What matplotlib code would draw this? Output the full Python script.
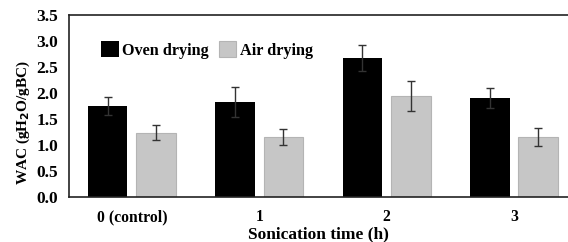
import matplotlib.pyplot as plt
import numpy as np

plt.rcParams['font.family'] = 'Liberation Serif'
plt.rcParams['font.weight'] = 'bold'

groups = ["0 (control)", "1", "2", "3"]
oven = [1.75, 1.83, 2.68, 1.90]
oven_err = [0.18, 0.29, 0.25, 0.19]
air = [1.24, 1.15, 1.94, 1.15]
air_err = [0.15, 0.15, 0.29, 0.17]

x = np.arange(len(groups))
w = 0.31

fig = plt.figure(figsize=(5.68, 2.42), dpi=100)
ax = fig.add_axes([0.1215, 0.186, 0.8785, 0.752])

ax.bar(x - 0.19, oven, w, color='black', label='Oven drying')
ax.bar(x + 0.19, air, w, color='#c6c6c6', edgecolor='#b4b4b4', linewidth=0.8, label='Air drying')
ax.errorbar(x - 0.19, oven, yerr=oven_err, fmt='none', ecolor='#333333', elinewidth=1, capsize=3, capthick=1)
ax.errorbar(x + 0.19, air, yerr=air_err, fmt='none', ecolor='#333333', elinewidth=1, capsize=3, capthick=1)

ax.set_xlim(-0.494, 3.424)
ax.set_ylim(0, 3.5)
ticks = np.arange(0, 3.51, 0.5)
ax.set_yticks(ticks)
ax.set_yticklabels([f"{v:.1f}" for v in ticks], fontsize=12.5, fontweight='bold')
ax.set_xticks(x)
ax.set_xticklabels(groups, fontsize=11.3, fontweight='bold')
ax.tick_params(length=0, pad=8)
ax.tick_params(axis='x', pad=9)

ax.spines['right'].set_visible(False)
for s in ['top', 'left', 'bottom']:
    ax.spines[s].set_linewidth(1.2)
    ax.spines[s].set_color('#222222')

ax.set_ylabel("WAC (gH$_\\mathbf{2}$O/gBC)", fontsize=11, fontweight='bold')
ax.yaxis.set_label_coords(-0.074, 0.41)
ax.set_xlabel("Sonication time (h)", fontsize=12.5, fontweight='bold', labelpad=1)

ax.legend(loc='upper left', bbox_to_anchor=(0.035, 0.935), ncol=2, frameon=False,
          prop={'family': 'Liberation Serif', 'weight': 'bold', 'size': 11.7},
          handlelength=1.1, handleheight=1.1, handletextpad=0.2, columnspacing=0.6)

fig.savefig('out.png', dpi=100)
